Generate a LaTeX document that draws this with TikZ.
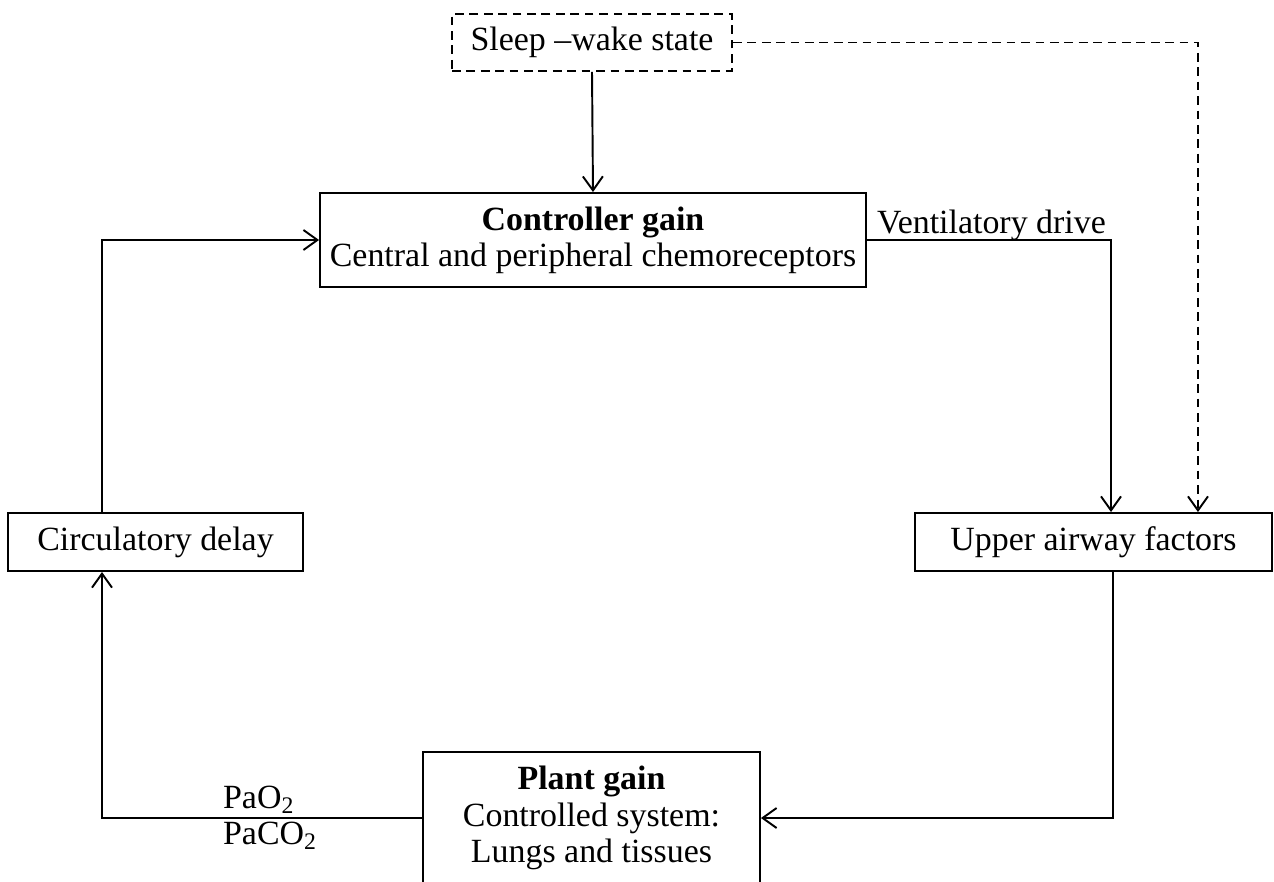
\documentclass[tikz,border=0pt]{standalone}
\usepackage{fontspec}
\setmainfont{Liberation Serif}
\usepackage{tikz}
\usetikzlibrary{positioning,calc,arrows.meta}
\tikzset{
  blk/.style={draw=black,line width=1.1pt,fill=white,inner sep=2pt,align=center,
    font=\fontsize{19.3}{20.6}\selectfont},
  dblk/.style={blk,dash pattern=on 5pt off 3.2pt},
  flow/.style={draw=black,line width=1.1pt,-{Straight Barb[length=0.28cm,width=0.4cm,line width=1.1pt]}},
  dflow/.style={flow,dash pattern=on 5pt off 3.2pt},
  lbl/.style={inner sep=1pt,font=\fontsize{19.3}{20.6}\selectfont},
}

\begin{document}
\begin{tikzpicture}[x=0.02cm,y=-0.02cm]
  \useasboundingbox (0,0) rectangle (1274,882);
  \clip (0,0) rectangle (1274,882);

  \node[dblk,minimum width=5.6cm,minimum height=1.14cm] (sleep) at (592,42.5) {Sleep --wake state};
  \node[blk,minimum width=10.92cm,minimum height=1.88cm] (ctrl) at (593,240)
    {\textbf{Controller gain}\\Central and peripheral chemoreceptors};
  \node[blk,minimum width=7.14cm,minimum height=1.16cm] (upper) at (1093.5,542) {Upper airway factors};
  \node[blk,minimum width=5.9cm,minimum height=1.16cm] (circ) at (155.5,542) {Circulatory delay};
  \node[blk,minimum width=6.74cm,minimum height=2.64cm] (plant) at (591.5,818)
    {\textbf{Plant gain}\\Controlled system:\\Lungs and tissues};

  \draw[flow] (sleep.south) -- (ctrl.north);
  \draw[dflow] (sleep.east) -| ([xshift=2.09cm]upper.north);
  \draw[flow] (ctrl.east) -| ([xshift=0.35cm]upper.north)
    node[lbl,pos=0.255,above,yshift=-2pt] (vdrive) {Ventilatory drive};
  \draw[flow] ([xshift=0.39cm]upper.south) |- (plant.east);
  \draw[flow] (plant.west) -| ([xshift=-1.07cm]circ.south);
  \draw[flow] ([xshift=-1.07cm]circ.north) |- (ctrl.west);

  \node[lbl,anchor=west] (pao) at (221,800) {PaO\textsubscript{2}};
  \node[lbl,anchor=west] (paco) at (221,836) {PaCO\textsubscript{2}};
\end{tikzpicture}
\end{document}
